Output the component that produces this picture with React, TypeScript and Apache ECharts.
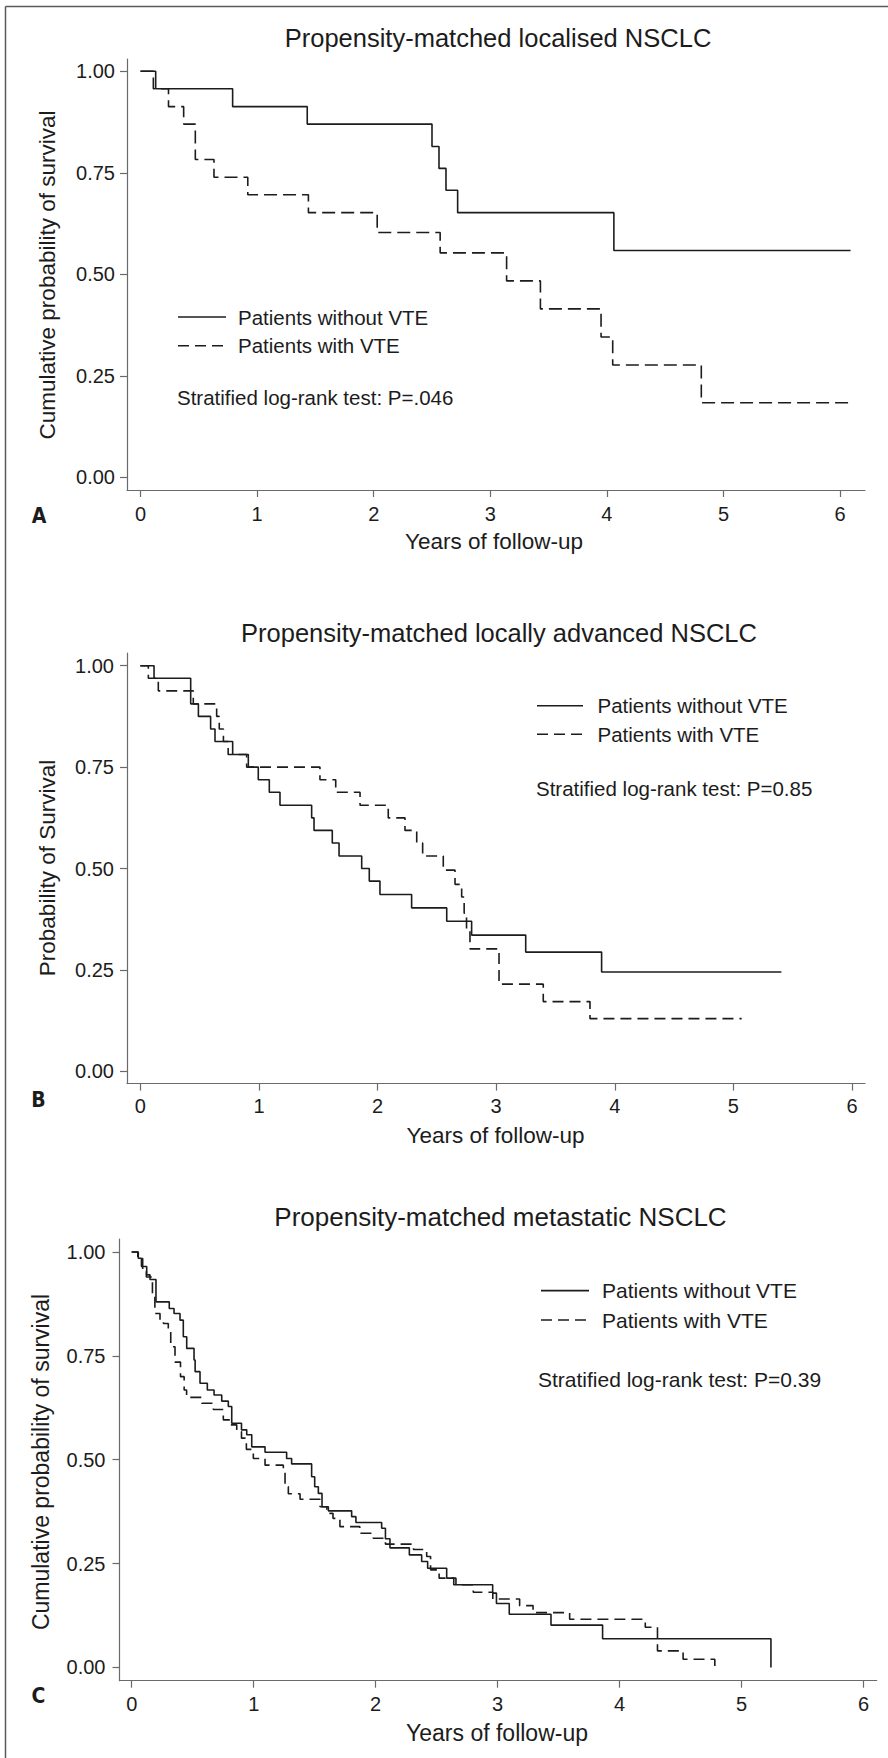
import React, { useEffect, useRef } from "react";
import * as echarts from "echarts";

// ---------- data ----------
const xTicks = [0, 1, 2, 3, 4, 5, 6];
const yTicks = [0, 0.25, 0.5, 0.75, 1];

const seriesNames = ["Patients without VTE", "Patients with VTE"];
const xAxisName = "Years of follow-up";

// Panel A
const aTitle = "Propensity-matched localised NSCLC";
const aYName = "Cumulative probability of survival";
const aNote = "Stratified log-rank test: P=.046";
const aWithoutTime = [0, 0.13, 0.79, 1.43, 2.5, 2.56, 2.62, 2.72, 4.06, 6.09];
const aWithoutSurv = [1, 0.957, 0.913, 0.87, 0.815, 0.761, 0.707, 0.652, 0.559, 0.559];
const aWithTime = [0, 0.11, 0.24, 0.37, 0.47, 0.63, 0.92, 1.44, 2.03, 2.57, 3.14, 3.43, 3.95, 4.05, 4.81, 6.1];
const aWithSurv = [1, 0.957, 0.913, 0.87, 0.783, 0.739, 0.696, 0.652, 0.603, 0.553, 0.484, 0.415, 0.346, 0.277, 0.184, 0.184];

// Panel B
const bTitle = "Propensity-matched locally advanced NSCLC";
const bYName = "Probability of Survival";
const bNote = "Stratified log-rank test: P=0.85";
const bWithoutTime = [0, 0.115, 0.424, 0.489, 0.592, 0.629, 0.778, 0.91, 0.994, 1.087, 1.177, 1.444, 1.464, 1.618, 1.675, 1.866, 1.93, 2.02, 2.287, 2.583, 2.793, 3.249, 3.889, 5.405];
const bWithoutSurv = [1, 0.969, 0.906, 0.875, 0.844, 0.813, 0.781, 0.75, 0.719, 0.688, 0.656, 0.625, 0.594, 0.563, 0.531, 0.5, 0.469, 0.436, 0.403, 0.37, 0.336, 0.294, 0.245, 0.245];
const bWithTime = [0, 0.067, 0.151, 0.446, 0.643, 0.665, 0.7, 0.74, 0.896, 1.514, 1.647, 1.852, 2.09, 2.231, 2.33, 2.38, 2.554, 2.653, 2.709, 2.73, 2.75, 2.779, 3.024, 3.397, 3.791, 5.07];
const bWithSurv = [1, 0.969, 0.938, 0.906, 0.875, 0.844, 0.813, 0.781, 0.75, 0.719, 0.688, 0.656, 0.625, 0.594, 0.563, 0.531, 0.496, 0.461, 0.43, 0.39, 0.35, 0.302, 0.215, 0.172, 0.13, 0.13];

// Panel C
const cTitle = "Propensity-matched metastatic NSCLC";
const cYName = "Cumulative probability of survival";
const cNote = "Stratified log-rank test: P=0.39";
const cWithoutTime = [0, 0.054, 0.08, 0.123, 0.15, 0.199, 0.308, 0.347, 0.396, 0.423, 0.451, 0.511, 0.52, 0.56, 0.62, 0.675, 0.738, 0.792, 0.82, 0.9, 0.943, 0.984, 1.093, 1.27, 1.311, 1.475, 1.5, 1.53, 1.56, 1.612, 1.803, 1.838, 2.049, 2.08, 2.117, 2.276, 2.377, 2.426, 2.582, 2.658, 2.959, 2.99, 3.095, 3.437, 3.86, 5.24];
const cWithoutSurv = [1, 0.985, 0.965, 0.945, 0.934, 0.88, 0.864, 0.852, 0.836, 0.796, 0.768, 0.74, 0.712, 0.684, 0.668, 0.656, 0.641, 0.628, 0.588, 0.572, 0.56, 0.531, 0.518, 0.503, 0.49, 0.459, 0.435, 0.419, 0.387, 0.377, 0.363, 0.349, 0.335, 0.31, 0.288, 0.271, 0.255, 0.239, 0.215, 0.199, 0.179, 0.154, 0.128, 0.102, 0.069, 0];
const cWithTime = [0, 0.05, 0.09, 0.12, 0.17, 0.19, 0.232, 0.26, 0.3, 0.32, 0.355, 0.4, 0.43, 0.45, 0.574, 0.669, 0.751, 0.806, 0.861, 0.9, 0.94, 0.997, 1.093, 1.243, 1.257, 1.284, 1.38, 1.544, 1.6, 1.65, 1.707, 1.87, 1.98, 2.08, 2.31, 2.418, 2.45, 2.52, 2.64, 2.8, 2.96, 3.18, 3.29, 3.59, 4.21, 4.31, 4.52, 4.78];
const cWithSurv = [1, 0.985, 0.955, 0.94, 0.9, 0.852, 0.836, 0.828, 0.812, 0.772, 0.735, 0.7, 0.668, 0.65, 0.636, 0.621, 0.596, 0.584, 0.568, 0.552, 0.525, 0.503, 0.487, 0.471, 0.435, 0.418, 0.405, 0.387, 0.371, 0.359, 0.339, 0.323, 0.311, 0.297, 0.284, 0.267, 0.235, 0.215, 0.199, 0.181, 0.165, 0.149, 0.132, 0.116, 0.097, 0.04, 0.02, 0];

// ---------- styling / layout ----------
const W = 888;
const H = 1758;
const FONT = '"Liberation Sans", Arial, Helvetica, sans-serif';
const LETTER_FONT = '"Liberation Sans Narrow", "DejaVu Sans Condensed", sans-serif';
const INK = "#1c1c1c";
const AXIS = "#6a6a6a";

const panels = [
  {
    letter: "A", title: aTitle, yName: aYName, note: aNote,
    without: [aWithoutTime, aWithoutSurv], withv: [aWithTime, aWithSurv],
    grid: { left: 127, top: 59, width: 738, height: 431 },
    xMin: -0.116, xMax: 6.214, yMin: -0.0308, yMax: 1.0303,
    xLabelMargin: 14, yLabelMargin: 12, dash: [13, 6],
    titlePos: [498, 37.5], titleSize: 25.5,
    xNamePos: [494, 541], yNamePos: [47, 275], nameSize: 22.5,
    letterPos: [39, 516],
    legendLine: [178, 226], legendRows: [317, 345.7], legendText: 238, legendSize: 20.5,
    notePos: [177, 397],
  },
  {
    letter: "B", title: bTitle, yName: bYName, note: bNote,
    without: [bWithoutTime, bWithoutSurv], withv: [bWithTime, bWithSurv],
    grid: { left: 127, top: 653, width: 738, height: 430.6 },
    xMin: -0.113, xMax: 6.11, yMin: -0.0301, yMax: 1.0313,
    xLabelMargin: 12, yLabelMargin: 13, dash: [11, 6],
    titlePos: [499, 633], titleSize: 25.5,
    xNamePos: [495.5, 1135], yNamePos: [47, 868], nameSize: 22.5,
    letterPos: [38.5, 1100],
    legendLine: [537, 583], legendRows: [705.7, 734.3], legendText: 597.5, legendSize: 20.5,
    notePos: [536, 788],
  },
  {
    letter: "C", title: cTitle, yName: cYName, note: cNote,
    without: [cWithoutTime, cWithoutSurv], withv: [cWithTime, cWithSurv],
    grid: { left: 119.5, top: 1239, width: 757.2, height: 441.7 },
    xMin: -0.1, xMax: 6.107, yMin: -0.0318, yMax: 1.0313,
    xLabelMargin: 13, yLabelMargin: 14, dash: [11, 6],
    titlePos: [500.5, 1217], titleSize: 26,
    xNamePos: [497, 1733], yNamePos: [41, 1462], nameSize: 23,
    letterPos: [38.5, 1696],
    legendLine: [541, 589], legendRows: [1290.6, 1320], legendText: 602, legendSize: 21,
    notePos: [538, 1379],
  },
];

const zip = (t: number[], s: number[]) => t.map((x, i) => [x, s[i]]);

function textEl(text: string, x: number, y: number, size: number, align = "center", extra: any = {}) {
  return {
    type: "text",
    x,
    y,
    silent: true,
    ...extra,
    style: {
      text,
      fill: INK,
      fontSize: size,
      fontFamily: FONT,
      align,
      verticalAlign: "middle",
      textAlign: align,
      textVerticalAlign: "middle",
      ...(extra.style || {}),
    },
  };
}

function buildOption() {
  const grid: any[] = [];
  const xAxis: any[] = [];
  const yAxis: any[] = [];
  const series: any[] = [];
  const graphic: any[] = [];

  // outer frame (left and top edges)
  graphic.push({ type: "line", silent: true, shape: { x1: 5.5, y1: 6.5, x2: 5.5, y2: H }, style: { stroke: "#5a5a5a", lineWidth: 1.5 } });
  graphic.push({ type: "line", silent: true, shape: { x1: 5.5, y1: 6.5, x2: W, y2: 6.5 }, style: { stroke: "#5a5a5a", lineWidth: 1.5 } });

  panels.forEach((p, i) => {
    grid.push({ ...p.grid, containLabel: false, outerBoundsMode: "none" });
    const axisLineStyle = { color: AXIS, width: 1.2 };
    xAxis.push({
      type: "value",
      gridIndex: i,
      min: p.xMin,
      max: p.xMax,
      axisLine: { show: true, onZero: false, lineStyle: axisLineStyle },
      axisTick: { show: true, length: 7, customValues: xTicks, lineStyle: axisLineStyle },
      axisLabel: { customValues: xTicks, margin: p.xLabelMargin, fontSize: 20, color: INK, fontFamily: FONT, formatter: (v: number) => String(v) },
      splitLine: { show: false },
    });
    yAxis.push({
      type: "value",
      gridIndex: i,
      min: p.yMin,
      max: p.yMax,
      axisLine: { show: true, onZero: false, lineStyle: axisLineStyle },
      axisTick: { show: true, length: 7, customValues: yTicks, lineStyle: axisLineStyle },
      axisLabel: { customValues: yTicks, margin: p.yLabelMargin, fontSize: 20, color: INK, fontFamily: FONT, formatter: (v: number) => v.toFixed(2) },
      splitLine: { show: false },
    });
    series.push({
      type: "line",
      name: seriesNames[0],
      xAxisIndex: i,
      yAxisIndex: i,
      step: "end",
      symbol: "none",
      data: zip(p.without[0], p.without[1]),
      lineStyle: { color: INK, width: 1.6, type: "solid" },
      silent: true,
    });
    series.push({
      type: "line",
      name: seriesNames[1],
      xAxisIndex: i,
      yAxisIndex: i,
      step: "end",
      symbol: "none",
      data: zip(p.withv[0], p.withv[1]),
      lineStyle: { color: INK, width: 1.6, type: p.dash },
      silent: true,
    });

    // title, axis names, panel letter
    graphic.push(textEl(p.title, p.titlePos[0], p.titlePos[1], p.titleSize));
    graphic.push(textEl(xAxisName, p.xNamePos[0], p.xNamePos[1], p.nameSize));
    graphic.push(textEl(p.yName, p.yNamePos[0], p.yNamePos[1], p.nameSize, "center", { rotation: Math.PI / 2 }));
    graphic.push(textEl(p.letter, p.letterPos[0], p.letterPos[1], 21, "center", { style: { fontWeight: "bold", fontFamily: LETTER_FONT } }));

    // legend
    p.legendRows.forEach((ry, k) => {
      graphic.push({
        type: "line",
        silent: true,
        shape: { x1: p.legendLine[0], y1: ry, x2: p.legendLine[1], y2: ry },
        style: { stroke: INK, lineWidth: 1.6, lineDash: k === 0 ? null : [11, 6] },
      });
      graphic.push(textEl(seriesNames[k], p.legendText, ry, p.legendSize, "left"));
    });
    graphic.push(textEl(p.note, p.notePos[0], p.notePos[1], p.legendSize, "left"));
  });

  return {
    animation: false,
    backgroundColor: "#ffffff",
    textStyle: { fontFamily: FONT },
    grid,
    xAxis,
    yAxis,
    series,
    graphic: { elements: graphic },
  };
}

export default function App() {
  const ref = useRef<HTMLDivElement>(null);
  useEffect(() => {
    document.body.style.margin = "0";
    if (!ref.current) return;
    const chart = echarts.init(ref.current, undefined, { renderer: "svg", width: W, height: H });
    chart.setOption(buildOption() as any);
    return () => chart.dispose();
  }, []);
  return <div ref={ref} style={{ width: W, height: H, background: "#fff" }} />;
}
